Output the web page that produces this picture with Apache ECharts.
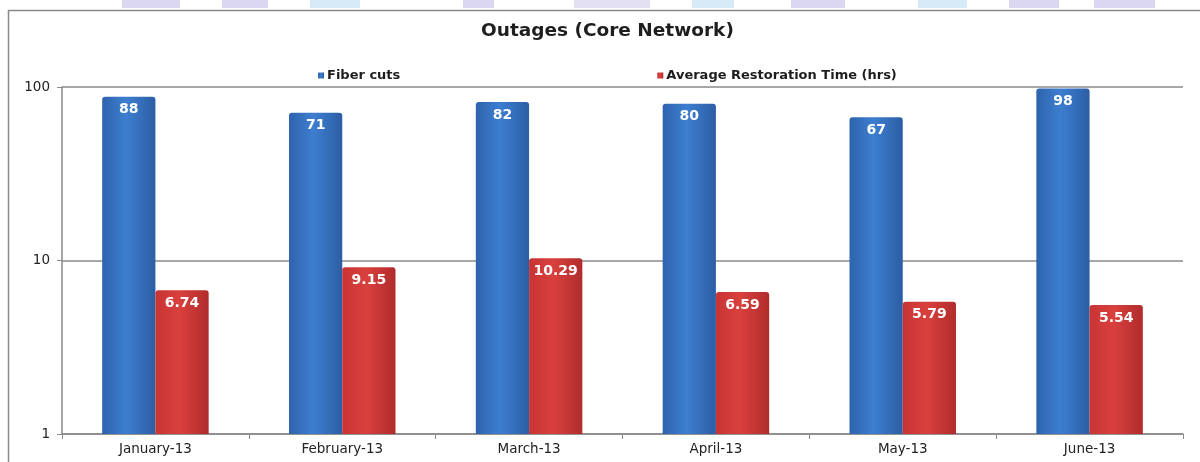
<!DOCTYPE html>
<html>
<head>
<meta charset="utf-8">
<script src="https://cdn.jsdelivr.net/npm/echarts@6/dist/echarts.min.js"></script>
<style>
html,body{margin:0;padding:0;background:#fff;}
#c{width:1200px;height:462px;}
</style>
</head>
<body>
<div id="c"></div>
<script>
const categories = ['January-13','February-13','March-13','April-13','May-13','June-13'];
const fiberCuts = [88, 71, 82, 80, 67, 98];
const restorationTime = [6.74, 9.15, 10.29, 6.59, 5.79, 5.54];
const seriesNames = ['Fiber cuts', 'Average Restoration Time (hrs)'];
const titleText = 'Outages (Core Network)';

const FONT = 'DejaVu Sans, Liberation Sans, Arial';
const chart = echarts.init(document.getElementById('c'), null, {renderer:'canvas'});

function grad(c1, c2, c3) {
  return new echarts.graphic.LinearGradient(0, 0, 1, 0, [
    {offset: 0, color: c1},
    {offset: 0.45, color: c2},
    {offset: 1, color: c3}
  ]);
}

const wm = [
  [122,180,'#dcd7f0'],[222,268,'#dcd7f0'],[310,360,'#d6eaf8'],[463,494,'#dcd7f0'],
  [574,650,'#e4e0f4'],[692,734,'#d6eaf8'],[791,845,'#dcd7f0'],[918,967,'#d6eaf8'],
  [1009,1059,'#dcd7f0'],[1094,1155,'#dcd7f0']
];

chart.setOption({
  animation: false,
  backgroundColor: '#fff',
  graphic: [
    ...wm.map(w => ({type:'rect', shape:{x:w[0], y:0, width:w[1]-w[0], height:8}, style:{fill:w[2]}, silent:true})),
    {type:'rect', shape:{x:8.5, y:10.5, width:1200, height:460}, style:{fill:'none', stroke:'#8a8a8a', lineWidth:1.5}, silent:true}
  ],
  title: {
    text: titleText,
    left: 476,
    top: 17,
    textStyle: {fontFamily:FONT, fontSize:18.5, fontWeight:'bold', color:'#1e1e1e'}
  },
  legend: {
    data: seriesNames,
    left: 313,
    top: 64,
    itemWidth: 6,
    itemHeight: 6,
    itemGap: 257,
    icon: 'rect',
    textStyle: {fontFamily:FONT, fontSize:13, fontWeight:'bold', color:'#1e1e1e', padding:[0,0,0,-2]}
  },
  grid: {left:62, right:17, top:87, bottom:28, containLabel:false},
  xAxis: {
    type: 'category',
    data: categories,
    axisLine: {lineStyle:{color:'#8a8a8a', width:1.5}},
    axisTick: {show:true, length:5, lineStyle:{color:'#8a8a8a'}},
    axisLabel: {fontFamily:FONT, fontSize:13.5, color:'#222', margin:8}
  },
  yAxis: {
    type: 'log',
    logBase: 10,
    min: 1,
    max: 100,
    axisLine: {show:true, lineStyle:{color:'#8a8a8a', width:1.5}},
    axisTick: {show:true, length:5, lineStyle:{color:'#8a8a8a'}},
    axisLabel: {fontFamily:FONT, fontSize:13.5, color:'#222', margin:12},
    splitLine: {show:true, lineStyle:{color:'#8a8a8a', width:1.5}}
  },
  series: [
    {
      name: seriesNames[0],
      type: 'bar',
      data: fiberCuts,
      barGap: '0%',
      barCategoryGap: '43%',
      itemStyle: {color: grad('#2f63ad', '#3d7ed0', '#2c5ea4'), borderRadius:[3,3,0,0]},
      label: {show:true, position:'insideTop', distance:6, color:'#fff', fontFamily:FONT, fontSize:14, fontWeight:'bold'}
    },
    {
      name: seriesNames[1],
      type: 'bar',
      data: restorationTime,
      itemStyle: {color: grad('#c83434', '#d9403d', '#b02c2c'), borderRadius:[3,3,0,0]},
      label: {show:true, position:'insideTop', distance:6, color:'#fff', fontFamily:FONT, fontSize:14, fontWeight:'bold'}
    }
  ]
});
</script>
</body>
</html>
